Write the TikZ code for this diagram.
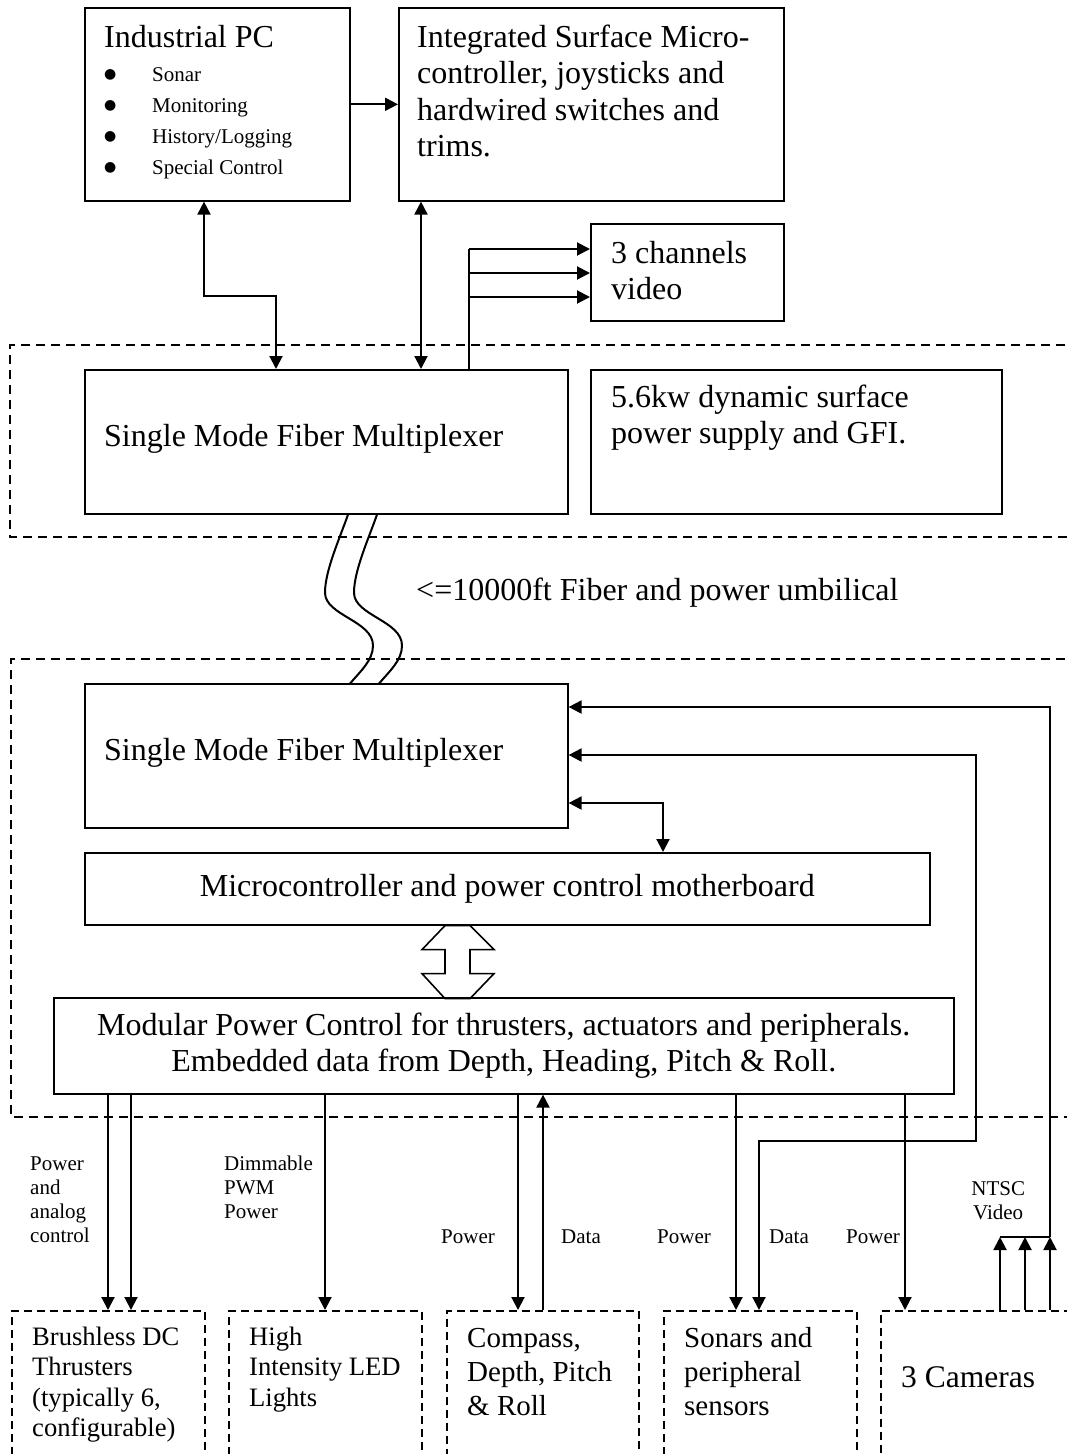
\documentclass[tikz,border=0pt]{standalone}
\usepackage{fontspec}
\setmainfont{Liberation Serif}
\newfontfamily\dejavu{DejaVu Sans}
\usepackage{tikz}
\usetikzlibrary{arrows.meta}
\usetikzlibrary{positioning}

\newcommand\bigtxt{\fontsize{32}{36.5}\selectfont}
\newcommand\camtxt{\fontsize{31.5}{36}\selectfont}
\newcommand\medtxt{\fontsize{29}{34}\selectfont}
\newcommand\smltxt{\fontsize{26.6}{30.5}\selectfont}
\newcommand\lbltxt{\fontsize{21}{24}\selectfont}
\newcommand\itemtxt{\fontsize{21}{31.3}\selectfont}
\newcommand\pcbullet{\makebox[48pt][l]{\raisebox{3pt}{\dejavu\fontsize{14}{14}\selectfont ●}}}

\tikzstyle{blk}=[draw=black, line width=1.6pt, inner sep=0pt, anchor=north west]
\tikzstyle{dblk}=[blk, dash pattern=on 8pt off 5pt]
\tikzstyle{txt}=[inner sep=0pt, anchor=base west, align=flush left]
\tikzstyle{lbl}=[txt, font=\lbltxt]
\tikzstyle{wire}=[line width=2pt]
\tikzstyle{arr}=[wire, -{Triangle[length=13pt,width=13pt]}]
\tikzstyle{dbl}=[wire, {Triangle[length=13pt,width=13pt]}-{Triangle[length=13pt,width=13pt]}]
\tikzstyle{region}=[line width=1.6pt, dash pattern=on 9pt off 6pt]

\begin{document}
\begin{tikzpicture}[x=1pt, y=-1pt]
  \useasboundingbox (0,0) rectangle (1066,1454);
  % surface
  \draw[region] (1080,345) -- (10,345) -- (10,537) -- (1080,537);
  \node[blk, minimum width=265, minimum height=193] (pc) at (84,7) {};
  \node[txt, font=\bigtxt] (pctitle) at (104,47) {Industrial PC};
  \node[txt, font=\itemtxt, text width=220] (pclist) at (104,81)
    {\pcbullet Sonar\\\pcbullet Monitoring\\\pcbullet History/Logging\\\pcbullet Special Control};
  \node[blk, minimum width=385, minimum height=193] (integ) at (398,7) {};
  \node[txt, font=\bigtxt, text width=370] (integtxt) at (417,47)
    {Integrated Surface Micro-\\controller, joysticks and\\hardwired switches and\\trims.};
  \node[blk, minimum width=193, minimum height=97] (vid) at (590,223) {};
  \node[txt, font=\bigtxt, text width=180] (vidtxt) at (611,263) {3 channels\\video};
  \node[blk, minimum width=483, minimum height=144] (muxs) at (84,369) {};
  \node[txt, font=\bigtxt] (muxstxt) at (104,446) {Single Mode Fiber Multiplexer};
  \node[blk, minimum width=411, minimum height=144] (psu) at (590,369) {};
  \node[txt, font=\bigtxt, text width=400] (psutxt) at (611,407)
    {5.6kw dynamic surface\\power supply and GFI.};

  \draw[arr] (pc.east) -- (pc.east -| integ.west);
  \coordinate (pcturn) at (204,296);
  \coordinate (muxturn) at (276,296);
  \draw[dbl] (pcturn |- pc.south) -- (pcturn) -- (muxturn) -- (muxturn |- muxs.north);
  \coordinate (integdrop) at (421,296);
  \draw[dbl] (integdrop |- integ.south) -- (integdrop |- muxs.north);
  \coordinate (vidtap) at (469,249);
  \coordinate (vidtapb) at (469,273);
  \coordinate (vidtapc) at (469,297);
  \draw[wire] (vidtap |- muxs.north) -- (vidtap);
  \draw[arr] (vidtap) -- (vidtap -| vid.west);
  \draw[arr] (vidtapb) -- (vidtapb -| vid.west);
  \draw[arr] (vidtapc) -- (vidtapc -| vid.west);

  % umbilical
  \coordinate (umbl) at (348,0);
  \coordinate (umbr) at (377,0);
  \draw[wire] (umbl |- muxs.south) .. controls +(-8,23) and +(0,-22) .. ++(-23,78)
    .. controls +(0,23) and +(0,-25) .. ++(48,53)
    .. controls +(0,15) and +(10,-12) .. ++(-23,38);
  \draw[wire] (umbr |- muxs.south) .. controls +(-8,23) and +(0,-22) .. ++(-23,78)
    .. controls +(0,23) and +(0,-25) .. ++(48,53)
    .. controls +(0,15) and +(10,-12) .. ++(-23,38);
  \node[txt, font=\bigtxt] (umbtxt) at (416,600) {<=10000ft Fiber and power umbilical};

  % vehicle
  \draw[region] (1080,659) -- (11,659) -- (11,1117) -- (1080,1117);
  \node[blk, minimum width=483, minimum height=144] (muxm) at (84,683) {};
  \node[txt, font=\bigtxt] (muxmtxt) at (104,760) {Single Mode Fiber Multiplexer};
  \node[blk, minimum width=845, minimum height=72, font=\bigtxt] (mb) at (84,852)
    {Microcontroller and power control motherboard};
  \node[blk, minimum width=900, minimum height=96, font=\bigtxt, align=center] (mod) at (53,997)
    {Modular Power Control for thrusters, actuators and peripherals.\\Embedded data from Depth, Heading, Pitch \& Roll.};
  \coordinate (fat) at (445,0);
  \draw[line width=1.6pt] (fat |- mb.south) -- ++(-23,24) -- ++(23,0) -- ++(0,24) -- ++(-23,0)
    -- ++(23,25) -- ++(25,0) -- ++(24,-25) -- ++(-24,0) -- ++(0,-24) -- ++(24,0) -- ++(-24,-24) -- cycle;

  \node[dblk, minimum width=193, minimum height=180] (thr) at (11,1310) {};
  \node[txt, font=\smltxt, text width=180] (thrtxt) at (32,1345)
    {Brushless DC\\Thrusters\\(typically 6,\\configurable)};
  \node[dblk, minimum width=193, minimum height=180] (led) at (228,1310) {};
  \node[txt, font=\smltxt, text width=180] (ledtxt) at (249,1345) {High\\Intensity LED\\Lights};
  \node[dblk, minimum width=192, minimum height=180] (cmp) at (446,1310) {};
  \node[txt, font=\medtxt, text width=180] (cmptxt) at (467,1347) {Compass,\\Depth, Pitch\\\& Roll};
  \node[dblk, minimum width=193, minimum height=180] (son) at (663,1310) {};
  \node[txt, font=\medtxt, text width=180] (sontxt) at (684,1347) {Sonars and\\peripheral\\sensors};
  \node[dblk, minimum width=220, minimum height=180] (cam) at (880,1310) {};
  \node[txt, font=\camtxt] (camtxt) at (901,1387) {3 Cameras};

  % links to the multiplexer
  \coordinate (mbtap) at (663,803);
  \draw[dbl] (mbtap -| muxm.east) -- (mbtap) -- (mbtap |- mb.north);
  \coordinate (sonup) at (976,755);
  \coordinate (sonbend) at (759,1141);
  \draw[dbl] (sonup -| muxm.east) -- (sonup) -- (sonup |- sonbend) -- (sonbend) -- (sonbend |- son.north);
  \coordinate (camup) at (1050,707);
  \coordinate (ntscjoin) at (1050,1237);
  \coordinate (ntscmid) at (1025,1237);
  \coordinate (ntscleft) at (1000,1237);
  \draw[arr] (ntscjoin) -- (camup) -- (camup -| muxm.east);
  \draw[wire] (ntscleft) -- (ntscjoin);
  \draw[arr] (ntscleft |- cam.north) -- (ntscleft);
  \draw[arr] (ntscmid |- cam.north) -- (ntscmid);
  \draw[arr] (ntscjoin |- cam.north) -- (ntscjoin);

  % links to the peripherals
  \coordinate (thra) at (108,0);
  \coordinate (thrb) at (131,0);
  \coordinate (ledx) at (325,0);
  \coordinate (cmpdn) at (518,0);
  \coordinate (cmpup) at (543,0);
  \coordinate (sondn) at (736,0);
  \coordinate (camdn) at (905,0);
  \draw[arr] (thra |- mod.south) -- (thra |- thr.north);
  \draw[arr] (thrb |- mod.south) -- (thrb |- thr.north);
  \draw[arr] (ledx |- mod.south) -- (ledx |- led.north);
  \draw[arr] (cmpdn |- mod.south) -- (cmpdn |- cmp.north);
  \draw[arr] (cmpup |- cmp.north) -- (cmpup |- mod.south);
  \draw[arr] (sondn |- mod.south) -- (sondn |- son.north);
  \draw[arr] (camdn |- mod.south) -- (camdn |- cam.north);

  \node[lbl, text width=80] (thrlbl) at (30,1170) {Power\\and\\analog\\control};
  \node[lbl, text width=90] (ledlbl) at (224,1170) {Dimmable\\PWM\\Power};
  \node[lbl] (cmppwr) at (441,1243) {Power};
  \node[lbl] (cmpdata) at (561,1243) {Data};
  \node[lbl] (sonpwr) at (657,1243) {Power};
  \node[lbl] (sondata) at (769,1243) {Data};
  \node[lbl] (campwr) at (846,1243) {Power};
  \node[lbl, text width=70, align=flush center] (ntsclbl) at (963,1195) {NTSC\\Video};
\end{tikzpicture}
\end{document}
